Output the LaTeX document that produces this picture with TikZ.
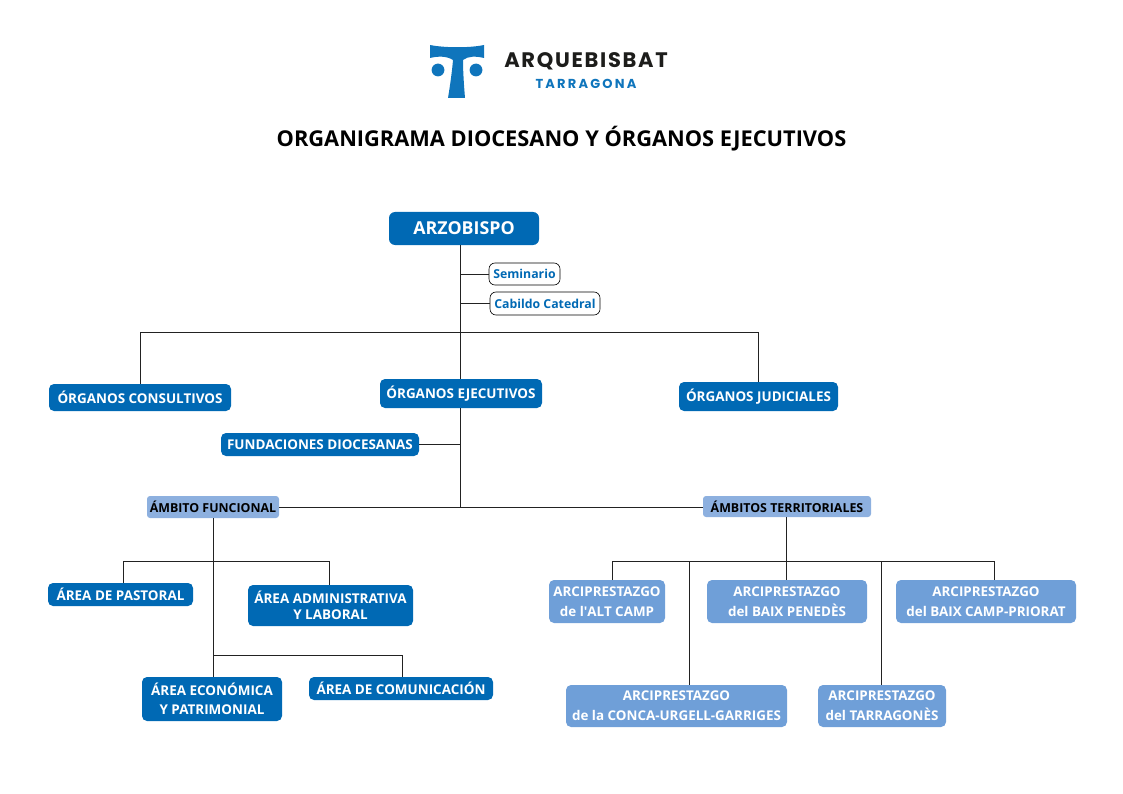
\documentclass[tikz,border=0pt]{standalone}
\usepackage{fontspec}
\setmainfont{Open Sans}
\newfontfamily\plainf{Open Sans}
\newfontfamily\logofont[LetterSpace=8]{Poppins}
\newfontfamily\logofontb[LetterSpace=17]{Poppins}
\definecolor{dblue}{HTML}{0069B4}
\definecolor{lblue}{HTML}{6F9FD8}
\definecolor{mblue}{HTML}{8DB0DF}
\definecolor{lgo}{HTML}{0F75BC}
\definecolor{ink}{HTML}{1D1D1B}
\definecolor{ln}{HTML}{222222}
\tikzset{
  x=1pt,y=-1pt,
  box/.style={rounded corners=5pt,inner sep=0pt,align=center,font=\fontsize{13.45}{16}\selectfont\bfseries,text=white,fill=dblue,anchor=center},
  lbox/.style={box,fill=lblue,font=\fontsize{13.4}{20}\selectfont\bfseries},
  amb/.style={box,fill=mblue,text=black,rounded corners=3pt,font=\fontsize{12.4}{14}\selectfont\bfseries},
  sbox/.style={box,fill=white,draw=black,line width=0.6pt,text=dblue,rounded corners=6pt,font=\fontsize{12.3}{14}\selectfont\bfseries},
  conn/.style={draw=ln,line width=1pt},
}
\newcommand{\bx}[7]{\node[#1,minimum width=#5-#3,minimum height=#6-#4] (#2) at ({(#3+#5)/2},{(#4+#6)/2}) {#7};}
\begin{document}
\begin{tikzpicture}
\useasboundingbox (0,0) rectangle (1123,794);
% logo
\fill[lgo] (430,45) .. controls (445,48) and (470,48) .. (484,45) -- (484,58) .. controls (476,56) and (468,56) .. (463,60) .. controls (463,72) and (464,86) .. (465,98) -- (448,98) .. controls (450,86) and (452,72) .. (453,60) .. controls (447,56) and (438,56) .. (430,58) -- cycle;
\fill[lgo] (438,70) circle (6.4) (476,70) circle (6.4);
\node[anchor=center,inner sep=0pt,text=ink,font=\logofont\fontsize{21}{24}\selectfont\bfseries] (logoa) at (586,61) {ARQUEBISBAT};
\node[anchor=center,inner sep=0pt,text=lgo,font=\logofontb\fontsize{13}{16}\selectfont\bfseries] (logob) at (586,84) {TARRAGONA};
\node[inner sep=0pt,font=\fontsize{21.8}{24}\selectfont\bfseries] (title) at (561.5,139) {ORGANIGRAMA DIOCESANO Y ÓRGANOS EJECUTIVOS};
% nodes
\bx{box,font=\fontsize{17.8}{22}\selectfont\bfseries,rounded corners=6pt}{arz}{389}{212}{539}{245}{ARZOBISPO}
\bx{sbox}{sem}{489}{263}{560}{285}{Seminario}
\bx{sbox}{cab}{490}{292}{600}{315}{Cabildo Catedral}
\bx{box}{cons}{49}{384}{231}{411}{ÓRGANOS CONSULTIVOS}
\bx{box}{ejec}{380}{379}{542}{408}{ÓRGANOS EJECUTIVOS}
\bx{box}{jud}{679}{382}{838}{411}{ÓRGANOS JUDICIALES}
\bx{box}{fund}{221}{433}{419}{456}{FUNDACIONES DIOCESANAS}
\bx{amb}{func}{147}{496}{279}{518}{ÁMBITO FUNCIONAL}
\bx{amb}{terr}{703}{496}{871}{517}{ÁMBITOS TERRITORIALES}
\bx{box}{past}{48}{583}{193}{606}{ÁREA DE PASTORAL}
\bx{box}{admin}{248}{585}{413}{626}{ÁREA ADMINISTRATIVA\\Y LABORAL}
\bx{box,font=\fontsize{13.45}{19}\selectfont\bfseries}{econ}{142}{677}{282}{721}{ÁREA ECONÓMICA\\Y PATRIMONIAL}
\bx{box}{comu}{309}{677}{493}{700}{ÁREA DE COMUNICACIÓN}
\bx{lbox}{alt}{549}{580}{665}{623}{ARCIPRESTAZGO\\de l{\plainf\bfseries '}ALT CAMP}
\bx{lbox}{pen}{707}{580}{867}{623}{ARCIPRESTAZGO\\del BAIX PENEDÈS}
\bx{lbox}{bcp}{896}{580}{1076}{623}{ARCIPRESTAZGO\\del BAIX CAMP-PRIORAT}
\bx{lbox}{con}{566}{685}{787}{727}{ARCIPRESTAZGO\\de la CONCA-URGELL-GARRIGES}
\bx{lbox}{tar}{818}{685}{946}{727}{ARCIPRESTAZGO\\del TARRAGONÈS}
% junctions
\coordinate (tA) at (460,245);
\coordinate (tB) at (460,507);
\coordinate (hL) at (140,332);
\coordinate (hR) at (758,332);
\coordinate (j1) at (123,561);
\coordinate (j2) at (329,561);
\coordinate (f1) at (213,518);
\coordinate (f2) at (213,677);
\coordinate (k1) at (213,655);
\coordinate (k2) at (402,655);
\coordinate (m1) at (612,561);
\coordinate (m2) at (994,561);
\coordinate (m3) at (786,517);
\coordinate (m4) at (786,561);
\coordinate (m5) at (689,561);
\coordinate (m6) at (881,561);
% connectors
\draw[conn] (tA) -- (tA |- ejec.north);
\draw[conn] (tA |- ejec.south) -- (tB);
\draw[conn] (tA |- sem.west) -- (sem.west);
\draw[conn] (tA |- cab.west) -- (cab.west);
\draw[conn] (hL) -- (hR);
\draw[conn] (hL) -- (hL |- cons.north);
\draw[conn] (hR) -- (hR |- jud.north);
\draw[conn] (fund.east) -- (tA |- fund.east);
\draw[conn] (func.east |- tB) -- (terr.west |- tB);
\draw[conn] (f1) -- (f2);
\draw[conn] (j1) -- (j2);
\draw[conn] (j1) -- (j1 |- past.north);
\draw[conn] (j2) -- (j2 |- admin.north);
\draw[conn] (k1) -- (k2);
\draw[conn] (k2) -- (k2 |- comu.north);
\draw[conn] (m3) -- (m4);
\draw[conn] (m1) -- (m2);
\draw[conn] (m1) -- (m1 |- alt.north);
\draw[conn] (m2) -- (m2 |- bcp.north);
\draw[conn] (m4) -- (m4 |- pen.north);
\draw[conn] (m5) -- (m5 |- con.north);
\draw[conn] (m6) -- (m6 |- tar.north);
\end{tikzpicture}
\end{document}
